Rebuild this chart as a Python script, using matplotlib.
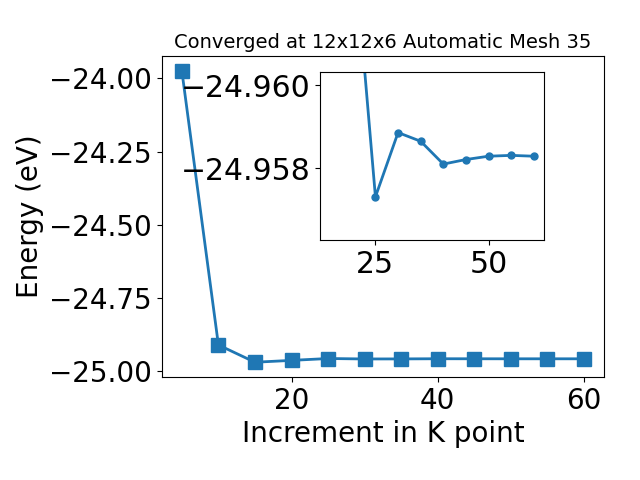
import numpy as np
import matplotlib.pyplot as plt

# k-point increments and total energies (eV)
kpoints = [5, 10, 15, 20, 25, 30, 35, 40, 45, 50, 55, 60]
energy = [-23.974, -24.911, -24.970, -24.9637, -24.95731, -24.95886,
          -24.95865, -24.95810, -24.95821, -24.95829, -24.95831, -24.95829]

fig = plt.figure(figsize=(6.4, 4.8), dpi=100)
ax = fig.add_axes([0.2527, 0.215, 0.6913, 0.668])
ax.plot(kpoints, energy, marker='s', markersize=10, linewidth=2)
ax.set_xlabel('Increment in K point', fontsize=20)
ax.set_ylabel('Energy (eV)', fontsize=20)
ax.set_title('Converged at 12x12x6 Automatic Mesh 35', fontsize=14)
ax.set_yticks([-24.0, -24.25, -24.5, -24.75, -25.0])
ax.tick_params(labelsize=20)

# zoomed inset (from 15 onwards)
axin = fig.add_axes([0.5, 0.5, 0.35, 0.35])
axin.plot(kpoints[2:], energy[2:], marker='o', markersize=5, linewidth=2)
axin.set_xlim(12.75, 62.25)
axin.set_ylim(-24.95627, -24.96032)
axin.set_yticks([-24.960, -24.958])
axin.set_xticks([25, 50])
axin.tick_params(labelsize=21.5)

plt.savefig('out.png')
